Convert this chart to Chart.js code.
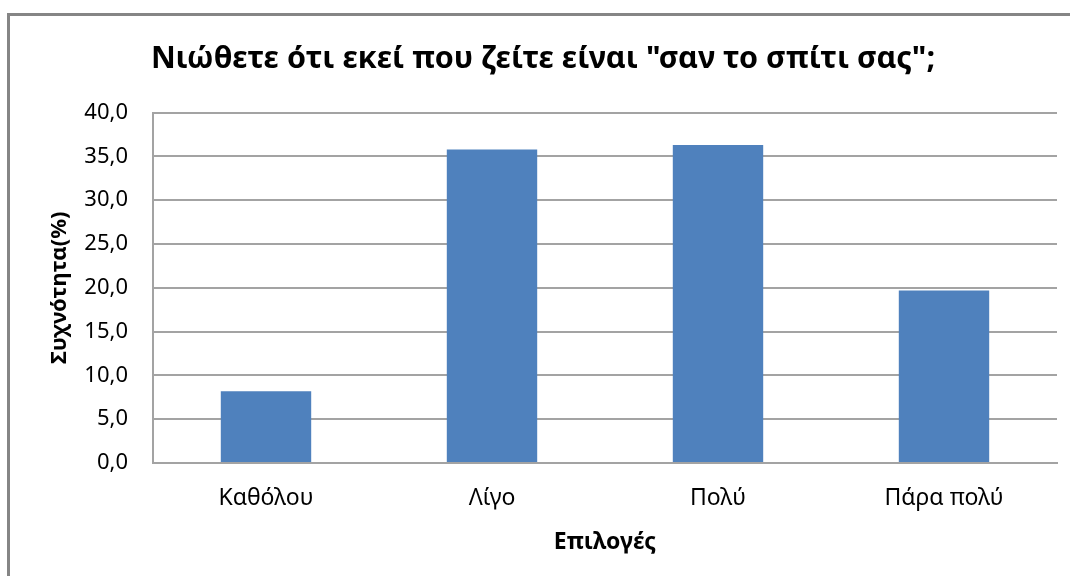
<!DOCTYPE html>
<html>
<head>
<meta charset="utf-8">
<script src="https://cdn.jsdelivr.net/npm/chart.js@4"></script>
<style>
    body { margin: 0; background: #fff; }
    #wrap { position: relative; width: 1070px; height: 576px; overflow: hidden; }
    #frame {
        position: absolute; left: 7px; top: 13px; width: 1100px; height: 600px;
        border: 3px solid #858585; box-sizing: border-box;
    }
    canvas { position: absolute; left: 0; top: 0; }
</style>
</head>
<body>
<div id="wrap">
    <div id="frame"></div>
    <canvas id="myChart" width="1070" height="576"></canvas>
</div>
<script>
const categories = ["Καθόλου", "Λίγο", "Πολύ", "Πάρα πολύ"];
const percents = [8.2, 35.8, 36.3, 19.7];
const yTicks = [0, 5, 10, 15, 20, 25, 30, 35, 40];

const chartTitle = 'Νιώθετε ότι εκεί που ζείτε είναι "σαν το σπίτι σας";';
const xTitle = "Επιλογές";
const yTitle = "Συχνότητα(%)";

const gridColor = "#a3a3a3";
const fontName = "'Noto Sans', 'Open Sans', sans-serif";

window.onload = () => {
    addChart();
}

function addChart() {
    const data = {
        labels: categories,
        datasets: [{
            label: "",
            data: percents,
            backgroundColor: "#4f81bd",
            categoryPercentage: 0.4,
            barPercentage: 1
        }]
    }

    const config = {
        type: "bar",
        data: data,
        options: {
            responsive: false,
            animation: false,
            layout: {
                padding: { left: 29, right: 13, top: 0, bottom: 0 }
            },
            plugins: {
                legend: { display: false },
                tooltip: { enabled: false },
                title: {
                    display: true,
                    text: chartTitle,
                    color: "#000",
                    font: { family: fontName, size: 30.5, weight: "bold" },
                    padding: { top: 41, bottom: 35 }
                }
            },
            scales: {
                x: {
                    grid: { display: false, drawTicks: false },
                    border: { display: true, color: gridColor, width: 2 },
                    ticks: {
                        color: "#000",
                        padding: 22,
                        font: { family: fontName, size: 23 }
                    },
                    title: {
                        display: true,
                        text: xTitle,
                        color: "#000",
                        font: { family: fontName, size: 23, weight: "bold" },
                        padding: { top: 0, bottom: 20 }
                    },
                    afterFit: (scale) => { scale.height = 576 - 463; }
                },
                y: {
                    min: 0,
                    max: 40,
                    afterBuildTicks: (scale) => {
                        scale.ticks = yTicks.map(v => ({ value: v }));
                    },
                    grid: { color: gridColor, lineWidth: 2, drawTicks: false },
                    border: { display: true, color: gridColor, width: 2 },
                    ticks: {
                        color: "#000",
                        padding: 25,
                        font: { family: fontName, size: 22 },
                        callback: (v) => v.toFixed(1).replace(".", ",")
                    },
                    title: {
                        display: true,
                        text: yTitle,
                        color: "#000",
                        font: { family: fontName, size: 22, weight: "bold" },
                        padding: { top: 18, bottom: 0 }
                    },
                    afterFit: (scale) => { scale.width = 153 - 29; }
                }
            }
        }
    }

    const ctx = document.getElementById('myChart').getContext('2d');
    const myChart = new Chart(ctx, config);
}
</script>
</body>
</html>
